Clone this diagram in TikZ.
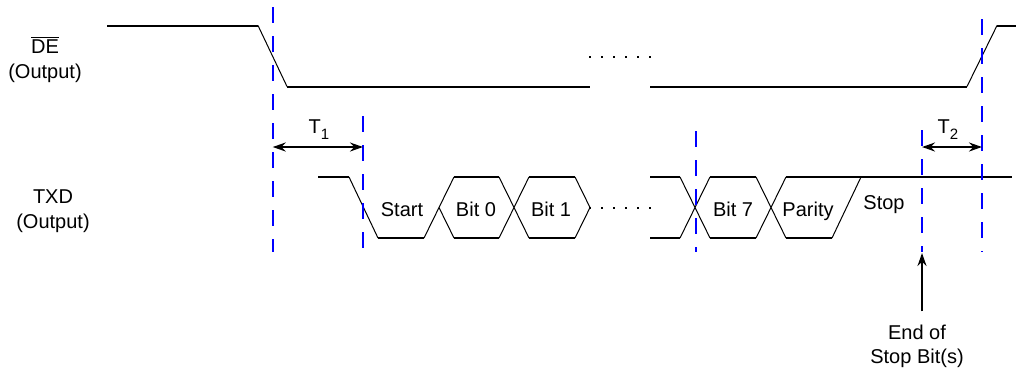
\documentclass[tikz,border=0pt]{standalone}
\usepackage{fontspec}
\setmainfont{Liberation Sans}
\usetikzlibrary{arrows.meta}
\definecolor{markblue}{rgb}{0,0,1}
\newcommand{\lowsub}[1]{\raisebox{-3pt}{\fontsize{7.5}{8}\selectfont #1}}

\begin{document}
\begin{tikzpicture}[x=0.5pt, y=-0.5pt, >={Stealth[length=6.5pt,width=4.5pt]},
    font=\fontsize{10}{12}\selectfont,
    level/.style={line width=1pt},
    edge/.style={line width=0.5pt},
    marker/.style={markblue, line width=1pt, dash pattern=on 8pt off 6.5pt},
    gapdots/.style={line width=1pt, dash pattern=on 1pt off 5pt}]
  \useasboundingbox (0,0) rectangle (1016,372);
  % signal names
  \node[anchor=base] (de) at (45,53.5) {$\overline{\mbox{DE}}$};
  \node[anchor=base] (deout) at (45,78) {(Output)};
  \node[anchor=base] (txd) at (53,203) {TXD};
  \node[anchor=base] (txdout) at (53,228) {(Output)};
  % DE waveform
  \draw[level] (107,25.5) -- (258,25.5);
  \draw[edge] (258,25.5) -- (287,86.5);
  \draw[level] (287,86.5) -- (590,86.5);
  \draw[gapdots] (589,56.7) -- (651,56.7);
  \draw[level] (650,86.5) -- (967,86.5);
  \draw[edge] (967,86.5) -- (997,25.5);
  \draw[level] (997,25.5) -- (1016,25.5);
  % TXD waveform: start bit
  \draw[level] (318,177) -- (349,177);
  \draw[edge] (349,177) -- (378,238);
  \draw[level] (378,238) -- (424,238);
  \draw[edge] (424,238) -- (454,177) (439,207.5) -- (454,238);
  % data bits, both levels drawn
  \foreach \a/\b in {454/499,529/575,650/680,710/756} {
    \draw[level] (\a,177) -- (\b,177) (\a,238) -- (\b,238);
  }
  \foreach \a in {499,680,756} {
    \draw[edge] (\a,177) -- ++(30,61) (\a,238) -- ++(30,-61);
  }
  \draw[edge] (575,177) -- (590,207.5) -- (575,238);
  \draw[gapdots] (589,208) -- (651,208);
  % parity, then stop (high)
  \draw[level] (786,238) -- (832,238);
  \draw[edge] (832,238) -- (861,177);
  \draw[level] (786,177) -- (1012,177);
  \node[anchor=base] (start) at (402,216) {Start};
  \node[anchor=base] (bit0) at (476,216) {Bit 0};
  \node[anchor=base] (bit1) at (551,216) {Bit 1};
  \node[anchor=base] (bit7) at (733,216) {Bit 7};
  \node[anchor=base] (parity) at (808,216) {Parity};
  \node[anchor=base] (stop) at (884,209) {Stop};
  % timing markers
  \foreach \x/\top [count=\i] in {272.7/7,363/116,695.5/131,922/130,982/19} {
    \draw[marker] (\x,\top) -- (\x,252);
    \coordinate (m\i) at (\x,147);
    \coordinate (m\i bot) at (\x,253);
  }
  \draw[<->, line width=1pt] (m1) -- (m2);
  \draw[<->, line width=1pt] (m4) -- (m5);
  \node[anchor=base] (t1) at (319,133) {T\lowsub{1}};
  \node[anchor=base] (t2) at (948,133) {T\lowsub{2}};
  % end of stop bit(s)
  \node[anchor=base] (endstop) at (917,339) {End of};
  \node[anchor=base] (endstopb) at (917,363) {Stop Bit(s)};
  \draw[->, line width=1pt] ([yshift=3pt]endstop.north -| m4bot) -- (m4bot);
\end{tikzpicture}
\end{document}
